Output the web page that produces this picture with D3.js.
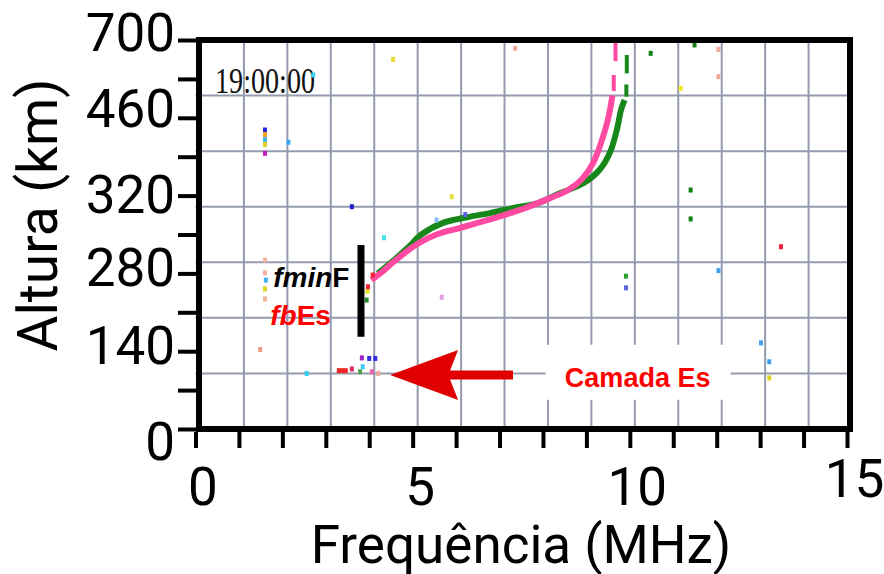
<!DOCTYPE html>
<html>
<head>
<meta charset="utf-8">
<script src="https://cdn.jsdelivr.net/npm/d3@7/dist/d3.min.js"></script>
<style>
body { margin: 0; background: #fff; }
</style>
</head>
<body>
<div id="chart"></div>
<script>
// axis values
var xTicks = [0, 1, 2, 3, 4, 5, 6, 7, 8, 9, 10, 11, 12, 13, 14, 15];
var xMajor = [0, 5, 10, 15];
var xLabels = ["0", "5", "10", "15"];
var yTicks = [0, 70, 140, 210, 280, 350, 420, 490, 560, 630, 700];
var yMajor = [0, 140, 280, 420, 560, 700];
var yLabels = ["0", "140", "280", "320", "460", "700"];

// ionogram grid (MHz, km)
var gridFreqs = [1, 2, 3, 4, 5, 6, 7, 8, 9, 10, 11, 12, 13, 14];
var gridHeights = [100, 200, 300, 400, 500, 600];

// F trace, pink echo [MHz, km]
var pinkTrace = [[4.05, 268], [4.3, 283], [4.55, 300], [4.85, 319], [5.15, 335], [5.55, 350],
  [6.1, 362], [6.6, 373], [7.1, 385], [7.6, 398], [8.15, 415], [8.6, 431], [8.9, 450],
  [9.15, 478], [9.35, 518], [9.5, 558], [9.6, 600]];
var pinkDashes = [[9.63, 608, 637], [9.67, 662, 695]];

// F trace, green echo [MHz, km]
var greenTrace = [[4.2, 280], [4.6, 306], [4.9, 327], [5.2, 350], [5.7, 371], [6.25, 381],
  [6.8, 389], [7.4, 399], [7.9, 407], [8.35, 423], [8.95, 443], [9.3, 466], [9.54, 497],
  [9.7, 538], [9.8, 575], [9.88, 592]];
var greenDashes = [[9.92, 598, 620], [9.93, 640, 673]];

// isolated echoes [MHz, km, colour]
var spots = [
  [4.55, 665, "#e6dc3c"], [7.36, 685, "#f4a898"], [2.71, 637, "#38d4f0"],
  [1.60, 538, "#2424dc"], [1.60, 530, "#f0a024"], [1.60, 521, "#40bff0"],
  [1.60, 512, "#e0d020"], [1.60, 496, "#c020c0"], [2.14, 516, "#40a8f0"],
  [3.60, 400, "#2020d0"], [5.90, 418, "#e0e040"], [5.55, 376, "#80c0ff"],
  [6.21, 386, "#6060f0"], [4.34, 344, "#40e0f0"], [10.48, 676, "#108010"],
  [11.49, 691, "#108010"], [12.04, 683, "#f0a898"], [12.04, 634, "#f0a898"],
  [11.17, 613, "#f0e820"], [11.40, 430, "#108010"], [11.40, 378, "#108010"],
  [1.60, 304, "#f4b0a0"], [1.60, 281, "#f4b0a0"], [1.62, 268, "#40b0f0"],
  [1.60, 252, "#e0d020"], [1.60, 234, "#f4b0a0"], [1.49, 143, "#f09888"],
  [2.56, 100, "#30d0f0"], [3.30, 105, "#f02828"], [3.38, 105, "#f02828"],
  [3.46, 105, "#f02828"], [3.60, 108, "#e03060"], [3.79, 103, "#50a050"],
  [3.85, 112, "#40c8f0"], [3.83, 128, "#a020c0"], [4.00, 127, "#3030e0"],
  [4.14, 127, "#3030e0"], [4.06, 103, "#f060b0"], [4.21, 100, "#f0a898"],
  [5.67, 237, "#e0a0e0"], [13.48, 328, "#f02040"], [9.91, 275, "#30a030"],
  [9.91, 254, "#6060e0"], [12.04, 285, "#40a0f0"], [13.02, 155, "#40a0f0"],
  [13.21, 121, "#40a0f0"], [13.21, 92, "#e0d020"], [3.96, 248, "#e0e020"],
  [3.94, 232, "#208a20"], [4.08, 277, "#f02030"], [3.97, 256, "#f02030"]
];

var width = 884,
    height = 574;

var x = d3.scaleLinear().domain([0, 15]).range([195.5, 847]);
var y = d3.scaleLinear().domain([0, 700]).range([429, 40]);
// the ionogram picture sits a few pixels right of the frequency axis
var xGrid = d3.scaleLinear().domain([0, 15]).range([200.5, 852]);

var svg = d3.select("#chart").append("svg")
    .attr("width", width)
    .attr("height", height)
    .style("background", "#fff");

// grid
svg.append("g").selectAll("line")
    .data(gridFreqs)
    .enter().append("line")
    .attr("x1", function (d) { return xGrid(d); })
    .attr("x2", function (d) { return xGrid(d); })
    .attr("y1", y(700))
    .attr("y2", y(0))
    .attr("stroke", "#959bae")
    .attr("stroke-width", 2);

svg.append("g").selectAll("line")
    .data(gridHeights)
    .enter().append("line")
    .attr("x1", x(0))
    .attr("x2", x(15))
    .attr("y1", function (d) { return y(d); })
    .attr("y2", function (d) { return y(d); })
    .attr("stroke", "#959bae")
    .attr("stroke-width", 2);

// timestamp
svg.append("text")
    .attr("x", x(0.45))
    .attr("y", y(605))
    .attr("font-family", "'Liberation Serif', 'DejaVu Serif', serif")
    .attr("font-size", 36)
    .attr("textLength", 100)
    .attr("lengthAdjust", "spacingAndGlyphs")
    .attr("fill", "#111")
    .text("19:00:00");

// traces
var line = d3.line()
    .x(function (d) { return x(d[0]); })
    .y(function (d) { return y(d[1]); })
    .curve(d3.curveCatmullRom);

function drawTrace(pts, dashes, colour) {
    svg.append("path")
        .attr("d", line(pts))
        .attr("fill", "none")
        .attr("stroke", colour)
        .attr("stroke-width", 6);
    svg.append("g").selectAll("line")
        .data(dashes)
        .enter().append("line")
        .attr("x1", function (d) { return x(d[0]); })
        .attr("x2", function (d) { return x(d[0]); })
        .attr("y1", function (d) { return y(d[1]); })
        .attr("y2", function (d) { return y(d[2]); })
        .attr("stroke", colour)
        .attr("stroke-width", 4);
}
drawTrace(greenTrace, greenDashes, "#17871a");
drawTrace(pinkTrace, pinkDashes, "#ff4aa2");

svg.append("g").selectAll("rect")
    .data(spots)
    .enter().append("rect")
    .attr("x", function (d) { return x(d[0]) - 2; })
    .attr("y", function (d) { return y(d[1]) - 2.5; })
    .attr("width", 4)
    .attr("height", 5)
    .attr("fill", function (d) { return d[2]; });

// frame
svg.append("rect")
    .attr("x", 199)
    .attr("y", 40)
    .attr("width", 651)
    .attr("height", 389)
    .attr("fill", "none")
    .attr("stroke", "#000")
    .attr("stroke-width", 6);

// axes
var xAxis = svg.append("g")
    .attr("transform", "translate(0,432)")
    .call(d3.axisBottom(x)
        .tickValues(xTicks)
        .tickSize(16)
        .tickFormat(function (d) {
            var i = xMajor.indexOf(d);
            return i < 0 ? "" : xLabels[i];
        }));
xAxis.select(".domain").remove();
xAxis.selectAll(".tick line").attr("stroke", "#000").attr("stroke-width", 4);
xAxis.selectAll("text")
    .attr("font-family", "Roboto, sans-serif")
    .attr("font-size", 53)
    .attr("fill", "#000")
    .attr("dy", null)
    .attr("dx", 7)
    .attr("y", function (d) { return d == 15 ? 65 : 73; });

var yNudge = [30, 12, 12, 17, 9, 10];
var yAxis = svg.append("g")
    .attr("transform", "translate(199,0)")
    .call(d3.axisLeft(y)
        .tickValues(yTicks)
        .tickSize(21)
        .tickPadding(3)
        .tickFormat(function (d) {
            var i = yMajor.indexOf(d);
            return i < 0 ? "" : yLabels[i];
        }));
yAxis.select(".domain").remove();
yAxis.selectAll(".tick line").attr("stroke", "#000").attr("stroke-width", 4);
yAxis.selectAll("text")
    .attr("font-family", "Roboto, sans-serif")
    .attr("font-size", 53)
    .attr("fill", "#000")
    .attr("dy", null)
    .attr("y", function (d) {
        var i = yMajor.indexOf(d);
        return i < 0 ? 0 : yNudge[i];
    });

// axis titles
svg.append("text")
    .attr("x", 521)
    .attr("y", 563)
    .attr("text-anchor", "middle")
    .attr("font-family", "Roboto, sans-serif")
    .attr("font-size", 53)
    .text("Frequência (MHz)");

svg.append("text")
    .attr("transform", "translate(57,215) rotate(-90)")
    .attr("text-anchor", "middle")
    .attr("font-family", "Roboto, sans-serif")
    .attr("font-size", 55)
    .text("Altura (km)");

// annotations
svg.append("line")
    .attr("x1", x(3.81)).attr("x2", x(3.81))
    .attr("y1", y(331)).attr("y2", y(166))
    .attr("stroke", "#000")
    .attr("stroke-width", 7);

var fmin = svg.append("text")
    .attr("x", x(1.79))
    .attr("y", y(256))
    .attr("font-family", "'Liberation Sans', Arial, sans-serif")
    .attr("font-weight", "bold")
    .attr("font-size", 28)
    .attr("fill", "#000");
fmin.append("tspan").attr("font-style", "italic").text("fmin");
fmin.append("tspan").text("F");

var fb = svg.append("text")
    .attr("x", x(1.72))
    .attr("y", y(187))
    .attr("font-family", "'Liberation Sans', Arial, sans-serif")
    .attr("font-weight", "bold")
    .attr("font-size", 28)
    .attr("fill", "#ff0000");
fb.append("tspan").attr("font-style", "italic").text("fb");
fb.append("tspan").text("Es");

var tipX = x(4.48), tipY = y(97), tailX = x(7.31);
svg.append("path")
    .attr("d", "M" + tipX + "," + tipY +
        "L" + (tipX + 68) + "," + (tipY - 25) +
        "L" + (tipX + 60) + "," + (tipY - 4.5) +
        "L" + tailX + "," + (tipY - 4.5) +
        "L" + tailX + "," + (tipY + 4.5) +
        "L" + (tipX + 60) + "," + (tipY + 4.5) +
        "L" + (tipX + 68) + "," + (tipY + 25) + "Z")
    .attr("fill", "#e00000");

var lblX = x(10.18), lblY = y(76);
svg.append("rect")
    .attr("x", lblX - 92)
    .attr("y", lblY - 42)
    .attr("width", 185)
    .attr("height", 55)
    .attr("fill", "#fff");
svg.append("text")
    .attr("x", lblX)
    .attr("y", lblY)
    .attr("text-anchor", "middle")
    .attr("font-family", "'Liberation Sans', Arial, sans-serif")
    .attr("font-weight", "bold")
    .attr("font-size", 27)
    .attr("fill", "#ff0000")
    .text("Camada Es");
</script>
</body>
</html>
